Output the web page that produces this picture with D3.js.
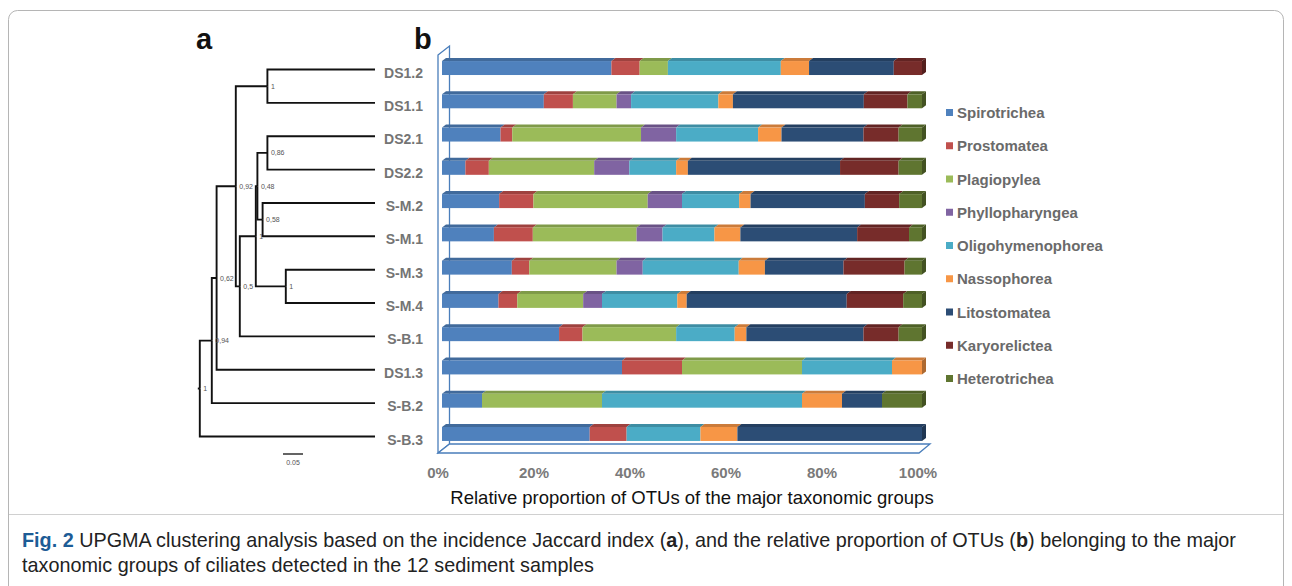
<!DOCTYPE html>
<html>
<head>
<meta charset="utf-8">
<script src="https://cdn.jsdelivr.net/npm/d3@7"></script>
<style>
  html, body { margin: 0; padding: 0; background: #fff; }
  svg { display: block; font-family: 'Liberation Sans', Arial, sans-serif; }
</style>
</head>
<body>
<div id="chart"></div>
<script>
// Samples, top to bottom (same order in tree and bars)
const samples = ['DS1.2', 'DS1.1', 'DS2.1', 'DS2.2', 'S-M.2', 'S-M.1', 'S-M.3', 'S-M.4', 'S-B.1', 'DS1.3', 'S-B.2', 'S-B.3'];

const groups = ['Spirotrichea', 'Prostomatea', 'Plagiopylea', 'Phyllopharyngea', 'Oligohymenophorea',
  'Nassophorea', 'Litostomatea', 'Karyorelictea', 'Heterotrichea'];

const groupColors = ['#4f81bd', '#c0504d', '#9bbb59', '#8064a2', '#4bacc6', '#f79646', '#2c4d75', '#772c2a', '#5f7530'];

// OTU counts per sample
const spirotrichea      = [6, 7, 5, 2, 5, 4, 8, 6, 10, 6, 1, 4];
const prostomatea       = [1, 2, 1, 2, 3, 3, 2, 2, 2, 2, 0, 1];
const plagiopylea       = [1, 3, 11, 9, 10, 8, 10, 7, 8, 4, 3, 0];
const phyllopharyngea   = [0, 1, 3, 3, 3, 2, 3, 2, 0, 0, 0, 0];
const oligohymenophorea = [4, 6, 7, 4, 5, 4, 11, 8, 5, 3, 5, 2];
const nassophorea       = [1, 1, 2, 1, 1, 2, 3, 1, 1, 1, 1, 1];
const litostomatea      = [3, 9, 7, 13, 10, 9, 9, 17, 10, 0, 1, 5];
const karyorelictea     = [1, 3, 3, 5, 3, 4, 7, 6, 3, 0, 0, 0];
const heterotrichea     = [0, 1, 2, 2, 2, 1, 2, 2, 2, 0, 1, 0];

const seriesValues = [spirotrichea, prostomatea, plagiopylea, phyllopharyngea, oligohymenophorea,
  nassophorea, litostomatea, karyorelictea, heterotrichea];

const xTicks = [0, 0.2, 0.4, 0.6, 0.8, 1];

// UPGMA merges: [node, child 1, child 2, height, support label]
const treeMerges = [
  ['n1', 'DS1.2', 'DS1.1', 0.269, '1'],
  ['n2', 'DS2.1', 'DS2.2', 0.269, '0,86'],
  ['n3', 'S-M.2', 'S-M.1', 0.281, '0,58'],
  ['n4', 'n2', 'n3', 0.294, '0,48'],
  ['n5', 'S-M.3', 'S-M.4', 0.223, '1'],
  ['n6', 'n4', 'n5', 0.298, '1'],
  ['n7', 'n6', 'S-B.1', 0.338, '0,5'],
  ['n8', 'n1', 'n7', 0.348, '0,92'],
  ['n9', 'n8', 'DS1.3', 0.396, '0,62'],
  ['n10', 'n9', 'S-B.2', 0.408, '0,94'],
  ['n11', 'n10', 'S-B.3', 0.438, '1'],
];

const W = 1292, H = 586;
const svg = d3.select('#chart').append('svg').attr('width', W).attr('height', H);

// Caption frame
svg.append('rect')
  .attr('x', 8.5).attr('y', 10.5).attr('width', 1275).attr('height', 640)
  .attr('rx', 9).attr('fill', 'none').attr('stroke', '#b5b5b5').attr('stroke-width', 1);
svg.append('line')
  .attr('x1', 9).attr('x2', 1283).attr('y1', 514.5).attr('y2', 514.5)
  .attr('stroke', '#d0d0d0').attr('stroke-width', 1);

// Panel letters
svg.append('text').attr('x', 196).attr('y', 49).text('a')
  .attr('font-size', 29).attr('font-weight', 'bold').attr('fill', '#111');
svg.append('text').attr('x', 414).attr('y', 49).text('b')
  .attr('font-size', 29).attr('font-weight', 'bold').attr('fill', '#111');

// ---------- Dendrogram ----------
const leafY = d3.scalePoint().domain(samples).range([69.5, 436.5]);
const treeX = d3.scaleLinear().domain([0, 0.05]).range([375, 355]);

const pos = {};
samples.forEach(s => { pos[s] = { x: treeX(0), y: leafY(s) }; });
treeMerges.forEach(([id, a, b, h]) => {
  pos[id] = { x: treeX(h), y: (pos[a].y + pos[b].y) / 2 };
});

const tree = svg.append('g').attr('class', 'tree')
  .attr('fill', 'none').attr('stroke', '#111').attr('stroke-width', 1.9);

treeMerges.forEach(([id, a, b]) => {
  const p = pos[id];
  [a, b].forEach(c => {
    tree.append('path')
      .attr('d', `M${p.x},${p.y}V${pos[c].y}H${pos[c].x}`);
  });
});
const root = pos[treeMerges[treeMerges.length - 1][0]];
tree.append('path').attr('d', `M${root.x - 2},${root.y}H${root.x}`);

svg.append('g').selectAll('text')
  .data(treeMerges)
  .join('text')
  .attr('x', d => pos[d[0]].x + 3.5)
  .attr('y', d => pos[d[0]].y + 2.5)
  .attr('font-size', 7)
  .attr('fill', '#555')
  .text(d => d[4]);

svg.append('g').selectAll('text')
  .data(samples)
  .join('text')
  .attr('x', 423)
  .attr('y', d => leafY(d) + 8)
  .attr('text-anchor', 'end')
  .attr('font-size', 14)
  .attr('font-weight', 'bold')
  .attr('fill', '#747474')
  .text(d => d);

// scale bar
svg.append('line').attr('x1', treeX(0.05) - 72).attr('x2', treeX(0) - 72)
  .attr('y1', 454).attr('y2', 454).attr('stroke', '#222').attr('stroke-width', 1.4);
svg.append('text').attr('x', treeX(0.025) - 72).attr('y', 465)
  .attr('text-anchor', 'middle').attr('font-size', 7).attr('fill', '#555').text('0.05');

// ---------- Stacked 3D bars ----------
const rows = samples.map((s, i) => {
  const r = { sample: s };
  groups.forEach((g, j) => { r[g] = seriesValues[j][i]; });
  return r;
});
const stacked = d3.stack().keys(groups).offset(d3.stackOffsetExpand)(rows);

const xBar = d3.scaleLinear().domain([0, 1]).range([442, 922]);
const xAxis = d3.scaleLinear().domain([0, 1]).range([438, 918]);
const yBar = d3.scaleBand().domain(samples).range([51.4, 450.6]).paddingInner(0.58).paddingOuter(0.29);
const color = d3.scaleOrdinal().domain(groups).range(groupColors);
const dx = 4, dy = 3;

// walls / floor
const wall = svg.append('g').attr('fill', '#fff').attr('stroke', '#4a7ebb').attr('stroke-width', 1.3);
wall.append('path').attr('d', 'M438,55L449.5,46V444L438,453Z');
wall.append('path').attr('d', 'M438,453L449.5,444H930L919,453Z');

const barG = svg.append('g').attr('class', 'bars');
stacked.forEach(layer => {
  const base = color(layer.key);
  layer.forEach(d => {
    const x0 = xBar(d[0]), x1 = xBar(d[1]);
    if (x1 - x0 < 0.1) return;
    const y = yBar(d.data.sample), h = yBar.bandwidth();
    barG.append('path')
      .attr('d', `M${x0},${y}L${x0 + dx},${y - dy}L${x1 + dx},${y - dy}L${x1},${y}Z`)
      .attr('fill', d3.color(base).darker(0.55));
    barG.append('rect')
      .attr('x', x0).attr('y', y).attr('width', x1 - x0).attr('height', h)
      .attr('fill', base);
    if (d[1] > 0.9999) {
      barG.append('path')
        .attr('d', `M${x1},${y}L${x1 + dx},${y - dy}V${y + h - dy}L${x1},${y + h}Z`)
        .attr('fill', d3.color(base).darker(1));
    }
  });
});

// x tick labels
svg.append('g').selectAll('text')
  .data(xTicks)
  .join('text')
  .attr('x', d => xAxis(d))
  .attr('y', 478)
  .attr('text-anchor', 'middle')
  .attr('font-size', 15)
  .attr('font-weight', 'bold')
  .attr('fill', '#7a7a7a')
  .text(d3.format('.0%'));

svg.append('text')
  .attr('x', 692).attr('y', 504)
  .attr('text-anchor', 'middle')
  .attr('font-size', 18.5)
  .attr('fill', '#111')
  .text('Relative proportion of OTUs of the major taxonomic groups');

// legend
const legY = d3.scalePoint().domain(groups).range([112.5, 378.5]);
const leg = svg.append('g').selectAll('g')
  .data(groups)
  .join('g')
  .attr('transform', d => `translate(946,${legY(d)})`);
leg.append('rect').attr('x', 0).attr('y', -3.5).attr('width', 7).attr('height', 7).attr('fill', d => color(d));
leg.append('text').attr('x', 11).attr('y', 5.5)
  .attr('font-size', 15).attr('font-weight', 'bold').attr('fill', '#6a6a6a')
  .text(d => d);

// ---------- Caption ----------
const cap = svg.append('g').attr('font-size', 16.5).attr('fill', '#222');
const l1 = cap.append('text').attr('x', 22).attr('y', 547);
l1.append('tspan').attr('font-weight', 'bold').attr('fill', '#1d5c96').text('Fig. 2');
l1.append('tspan').text(' UPGMA clustering analysis based on the incidence Jaccard index (');
l1.append('tspan').attr('font-weight', 'bold').text('a');
l1.append('tspan').text('), and the relative proportion of OTUs (');
l1.append('tspan').attr('font-weight', 'bold').text('b');
l1.append('tspan').text(') belonging to the major');
cap.append('text').attr('x', 22).attr('y', 572)
  .text('taxonomic groups of ciliates detected in the 12 sediment samples');

// fit caption width to the printed line
const w1 = l1.node().getComputedTextLength();
cap.attr('font-size', 16.5 * 1215 / w1);
</script>
</body>
</html>
